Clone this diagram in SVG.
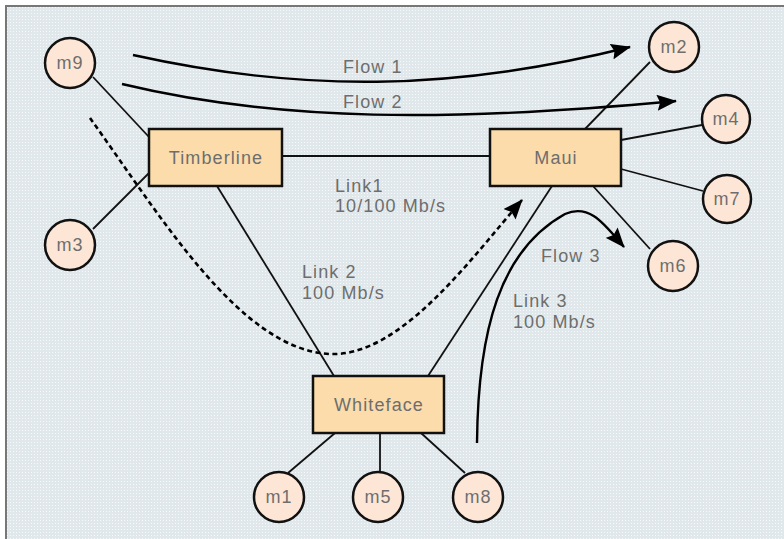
<svg xmlns="http://www.w3.org/2000/svg" width="784" height="539" viewBox="0 0 784 539">
<defs>
<pattern id="dots" width="3" height="3" patternUnits="userSpaceOnUse">
<rect width="3" height="3" fill="#e1e8eb"/>
<rect x="1" y="1" width="1" height="1" fill="#f6f8f9"/>
</pattern>
<marker id="arr" viewBox="0 0 20 16" refX="19" refY="8" markerWidth="20" markerHeight="16" markerUnits="userSpaceOnUse" orient="auto">
<path d="M0,0 L20,8 L0,16 L3,8 z" fill="#000"/>
</marker>
</defs>
<style>
.lbl{font-family:"Liberation Sans",Arial,sans-serif;font-size:18px;fill:#6e6e6e;letter-spacing:1.1px}
.ctr{text-anchor:middle}
.host circle{fill:#fde6d6;stroke:#111;stroke-width:2.5}
.sw rect{fill:#fcdcab;stroke:#111;stroke-width:2.5}
.link{stroke:#111;stroke-width:1.8;fill:none}
.flow{stroke:#000;stroke-width:2.4;fill:none;marker-end:url(#arr)}
.dash{stroke-dasharray:5 3.5;stroke-width:2.6}
</style>
<rect x="0" y="0" width="784" height="539" fill="#fff"/>
<rect x="6" y="6" width="778" height="533" fill="url(#dots)"/>
<path d="M6,539 L6,6 L784,6" fill="none" stroke="#777" stroke-width="2"/>

<g id="connectors">
<line class="link" x1="93" y1="77" x2="149" y2="137"/>
<line class="link" x1="93" y1="229" x2="149" y2="173"/>
<line class="link" x1="282" y1="156" x2="490" y2="156"/>
<line class="link" x1="217" y1="186" x2="334" y2="376"/>
<line class="link" x1="585" y1="129" x2="650" y2="62"/>
<line class="link" x1="621" y1="140" x2="702" y2="125"/>
<line class="link" x1="621" y1="169" x2="703" y2="191"/>
<line class="link" x1="593" y1="186" x2="650" y2="249"/>
<line class="link" x1="552" y1="186" x2="428" y2="376"/>
<line class="link" x1="335" y1="433" x2="288" y2="473"/>
<line class="link" x1="380" y1="433" x2="380" y2="472"/>
<line class="link" x1="421" y1="433" x2="465" y2="473"/>
<path class="flow" d="M133,55 C300,92 450,92 630,47"/>
<path class="flow" d="M122,84 C280,122 450,122 676,101"/>
<path class="flow dash" d="M90,118 C160,215 240,350 330,354 C400,357 470,260 522,200"/>
<path class="flow" d="M477,443 C478,330 500,250 565,214 C590,203 605,225 624,247"/>
</g>

<g id="labels">
<text class="lbl" x="343" y="73">Flow 1</text>
<text class="lbl" x="343" y="108">Flow 2</text>
<text class="lbl" x="541" y="262">Flow 3</text>
<text class="lbl" x="335" y="192">Link1</text>
<text class="lbl" x="335" y="212">10/100 Mb/s</text>
<text class="lbl" x="302" y="278">Link 2</text>
<text class="lbl" x="302" y="299">100 Mb/s</text>
<text class="lbl" x="513" y="307">Link 3</text>
<text class="lbl" x="513" y="328">100 Mb/s</text>
</g>

<g id="Timberline" class="sw"><rect x="149" y="129" width="133" height="57"/><text class="lbl ctr" x="216" y="164">Timberline</text></g>
<g id="Maui" class="sw"><rect x="490" y="129" width="131" height="57"/><text class="lbl ctr" x="556" y="164">Maui</text></g>
<g id="Whiteface" class="sw"><rect x="313" y="376" width="131" height="57"/><text class="lbl ctr" x="379" y="411">Whiteface</text></g>

<g id="m9" class="host"><circle cx="70" cy="63" r="25"/><text class="lbl ctr" x="70" y="69">m9</text></g>
<g id="m3" class="host"><circle cx="70" cy="245" r="25"/><text class="lbl ctr" x="70" y="251">m3</text></g>
<g id="m2" class="host"><circle cx="674" cy="47" r="25"/><text class="lbl ctr" x="674" y="53">m2</text></g>
<g id="m4" class="host"><circle cx="726" cy="119" r="24"/><text class="lbl ctr" x="726" y="125">m4</text></g>
<g id="m7" class="host"><circle cx="727" cy="199" r="24"/><text class="lbl ctr" x="727" y="205">m7</text></g>
<g id="m6" class="host"><circle cx="673" cy="266" r="25"/><text class="lbl ctr" x="673" y="272">m6</text></g>
<g id="m1" class="host"><circle cx="279" cy="497" r="25"/><text class="lbl ctr" x="279" y="503">m1</text></g>
<g id="m5" class="host"><circle cx="378" cy="497" r="25"/><text class="lbl ctr" x="378" y="503">m5</text></g>
<g id="m8" class="host"><circle cx="478" cy="497" r="25"/><text class="lbl ctr" x="478" y="503">m8</text></g>
</svg>
